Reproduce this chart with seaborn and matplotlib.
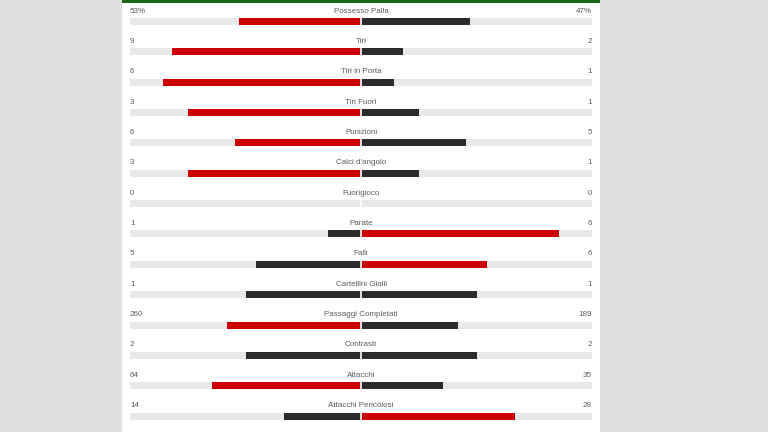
import matplotlib
matplotlib.use("Agg")
import matplotlib.pyplot as plt
import seaborn as sns
import pandas as pd
from matplotlib.patches import Rectangle

categories = ["Possesso Palla", "Tiri", "Tiri in Porta", "Tiri Fuori", "Punizioni",
              "Calci d'angolo", "Fuorigioco", "Parate", "Falli", "Cartellini Gialli",
              "Passaggi Completati", "Contrasti", "Attacchi", "Attacchi Pericolosi"]
home_values = [53, 9, 6, 3, 6, 3, 0, 1, 5, 1, 260, 2, 64, 14]
away_values = [47, 2, 1, 1, 5, 1, 0, 6, 6, 1, 189, 2, 35, 28]
home_labels = ["53%", "9", "6", "3", "6", "3", "0", "1", "5", "1", "260", "2", "64", "14"]
away_labels = ["47%", "2", "1", "1", "5", "1", "0", "6", "6", "1", "189", "2", "35", "28"]

RED = "#cc0000"
DARK = "#2b2b2b"
TRACK = "#e8e8e8"
TEXT = "#5c5c5c"

rows = []
for c, h, a in zip(categories, home_values, away_values):
    tot = h + a
    fh = h / tot if tot else 0.0
    fa = a / tot if tot else 0.0
    ch = RED if h > a else DARK
    ca = RED if a > h else DARK
    rows.append({"cat": c, "val": -fh, "col": ch})
    rows.append({"cat": c, "val": fa, "col": ca})
df = pd.DataFrame(rows)
left = df.iloc[0::2]
right = df.iloc[1::2]

W, H = 768, 432
fig = plt.figure(figsize=(W / 100, H / 100), dpi=100)
fig.patch.set_facecolor("#e0e0e0")
fig.patches.append(Rectangle((122 / W, 0), (600 - 122) / W, 1, transform=fig.transFigure,
                             facecolor="white", edgecolor="none", zorder=0))
fig.patches.append(Rectangle((122 / W, 1 - 3 / H), (600 - 122) / W, 3 / H, transform=fig.transFigure,
                             facecolor="#1a661a", edgecolor="none", zorder=1))

x0, x1 = 130, 592
ax = fig.add_axes([x0 / W, 0, (x1 - x0) / W, 1])
ax.set_zorder(5)
ax.patch.set_alpha(0)

n = len(categories)
bw = 7 / 30.35
track = pd.DataFrame({"cat": categories * 2, "val": [-1.0] * n + [1.0] * n})
sns.barplot(data=track[track.val < 0], x="val", y="cat", order=categories, color=TRACK,
            width=bw, orient="h", errorbar=None, ax=ax, saturation=1, linewidth=0)
sns.barplot(data=track[track.val > 0], x="val", y="cat", order=categories, color=TRACK,
            width=bw, orient="h", errorbar=None, ax=ax, saturation=1, linewidth=0)
pal = {RED: RED, DARK: DARK}
sns.barplot(data=left, x="val", y="cat", order=categories, hue="col", palette=pal,
            width=bw, orient="h", errorbar=None, ax=ax, saturation=1, legend=False,
            dodge=False, linewidth=0)
sns.barplot(data=right, x="val", y="cat", order=categories, hue="col", palette=pal,
            width=bw, orient="h", errorbar=None, ax=ax, saturation=1, legend=False,
            dodge=False, linewidth=0)

ypos = list(range(n))
ax.vlines([0] * n, [y - bw / 2 - 0.01 for y in ypos], [y + bw / 2 + 0.01 for y in ypos],
          color="white", lw=1.2, zorder=5)

sp = 30.35
ax.set_xlim(-1, 1)
ax.set_ylim((H - 21.5) / sp, -21.5 / sp)
ax.axis("off")

fs = 5.8
fam = ["Liberation Sans", "DejaVu Sans"]
dy = 10.5 / sp
for i, c in enumerate(categories):
    ax.text(0, i - dy, c, ha="center", va="center", fontsize=fs, color=TEXT, family=fam, zorder=10)
    ax.text(-1, i - dy, home_labels[i], ha="left", va="center", fontsize=fs, color=TEXT, family=fam, zorder=10)
    ax.text(1, i - dy, away_labels[i], ha="right", va="center", fontsize=fs, color=TEXT, family=fam, zorder=10)

fig.savefig("out.png", dpi=100, facecolor=fig.get_facecolor())
